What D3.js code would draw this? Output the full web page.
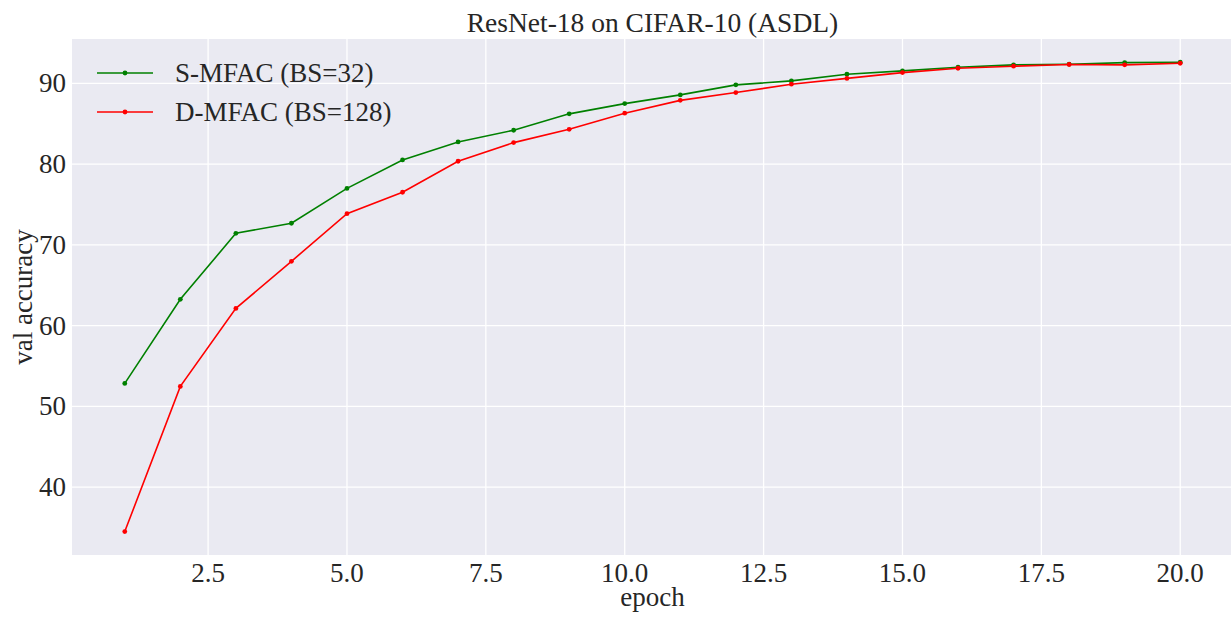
<!DOCTYPE html>
<html>
<head>
<meta charset="utf-8">
<script src="https://cdn.jsdelivr.net/npm/d3@7"></script>
<style>
  body { margin: 0; background: #fff; }
  text { font-family: "Liberation Serif", "DejaVu Serif", serif; fill: #262626; }
</style>
</head>
<body>
<div id="viz"></div>
<script>
const epochs = d3.range(1, 21);
const sMfac = [52.85, 63.26, 71.44, 72.68, 77.0, 80.52, 82.75, 84.2, 86.23, 87.5,
               88.58, 89.82, 90.31, 91.14, 91.55, 92.0, 92.3, 92.38, 92.58, 92.63];
const dMfac = [34.5, 52.48, 62.14, 67.97, 73.87, 76.52, 80.36, 82.67, 84.32, 86.31,
               87.9, 88.87, 89.9, 90.62, 91.34, 91.88, 92.13, 92.34, 92.3, 92.5];
const xTicks = [2.5, 5.0, 7.5, 10.0, 12.5, 15.0, 17.5, 20.0];
const yTicks = [40, 50, 60, 70, 80, 90];
const seriesNames = ["S-MFAC (BS=32)", "D-MFAC (BS=128)"];
const seriesColors = ["green", "red"];

document.addEventListener("DOMContentLoaded", () => {
    const width = 1231;
    const height = 618;
    const margin = { left: 72, right: -2, top: 39, bottom: 63 };

    const svg = d3.select('#viz').append('svg')
        .attr('width', width)
        .attr('height', height);

    const x = d3.scaleLinear()
        .domain([0.05, 20.95])
        .range([margin.left, width - margin.right]);

    const y = d3.scaleLinear()
        .domain([31.6, 95.5])
        .range([height - margin.bottom, margin.top]);

    svg.append('defs').append('clipPath').attr('id', 'clip')
        .append('rect')
        .attr('x', margin.left).attr('y', margin.top)
        .attr('width', width - margin.right - margin.left)
        .attr('height', height - margin.bottom - margin.top);

    svg.append('rect')
        .attr('x', margin.left).attr('y', margin.top)
        .attr('width', width - margin.right - margin.left)
        .attr('height', height - margin.bottom - margin.top)
        .attr('fill', '#EAEAF2');

    // grid
    const grid = svg.append('g').attr('clip-path', 'url(#clip)');
    grid.selectAll('.gx').data(xTicks).enter().append('line')
        .attr('x1', d => x(d)).attr('x2', d => x(d))
        .attr('y1', margin.top).attr('y2', height - margin.bottom)
        .attr('stroke', 'white').attr('stroke-width', 1.3);
    grid.selectAll('.gy').data(yTicks).enter().append('line')
        .attr('y1', d => y(d)).attr('y2', d => y(d))
        .attr('x1', margin.left).attr('x2', width - margin.right)
        .attr('stroke', 'white').attr('stroke-width', 1.3);

    // tick labels
    svg.selectAll('.xt').data(xTicks).enter().append('text')
        .attr('x', d => x(d)).attr('y', 582)
        .attr('text-anchor', 'middle')
        .style('font-size', '27px')
        .text(d => d.toFixed(1));
    svg.selectAll('.yt').data(yTicks).enter().append('text')
        .attr('x', 66).attr('y', d => y(d) + 9)
        .attr('text-anchor', 'end')
        .style('font-size', '27px')
        .text(d => d);

    // axis labels and title
    svg.append('text')
        .attr('x', (margin.left + width - margin.right) / 2).attr('y', 606)
        .attr('text-anchor', 'middle')
        .style('font-size', '27px')
        .text('epoch');
    svg.append('text')
        .attr('transform', `translate(32, ${(margin.top + height - margin.bottom) / 2}) rotate(-90)`)
        .attr('text-anchor', 'middle')
        .style('font-size', '27px')
        .text('val accuracy');
    svg.append('text')
        .attr('x', (margin.left + width - margin.right) / 2).attr('y', 32)
        .attr('text-anchor', 'middle')
        .style('font-size', '27.5px')
        .text('ResNet-18 on CIFAR-10 (ASDL)');

    // lines
    const line = d3.line()
        .x((d, i) => x(epochs[i]))
        .y(d => y(d));

    const plot = svg.append('g').attr('clip-path', 'url(#clip)');
    [sMfac, dMfac].forEach((values, k) => {
        plot.append('path')
            .attr('d', line(values))
            .attr('fill', 'none')
            .attr('stroke', seriesColors[k])
            .attr('stroke-width', 1.6);
        plot.selectAll('.pt' + k).data(values).enter().append('circle')
            .attr('cx', (d, i) => x(epochs[i]))
            .attr('cy', d => y(d))
            .attr('r', 2.4)
            .attr('fill', seriesColors[k]);
    });

    // legend
    const legend = svg.append('g');
    seriesNames.forEach((name, k) => {
        const ly = 73 + k * 39;
        legend.append('line')
            .attr('x1', 97).attr('x2', 153)
            .attr('y1', ly).attr('y2', ly)
            .attr('stroke', seriesColors[k]).attr('stroke-width', 1.6);
        legend.append('circle')
            .attr('cx', 125).attr('cy', ly).attr('r', 2.4)
            .attr('fill', seriesColors[k]);
        legend.append('text')
            .attr('x', 175).attr('y', ly + 9)
            .style('font-size', '27px')
            .text(name);
    });
});
</script>
</body>
</html>
